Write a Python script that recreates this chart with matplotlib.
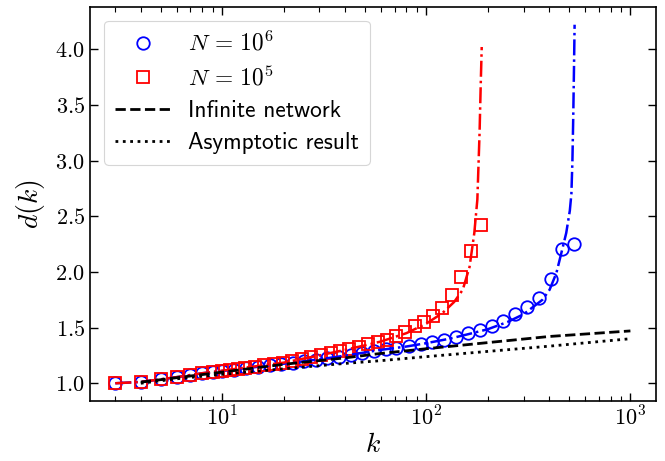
import numpy as np
import matplotlib
matplotlib.use("Agg")
import matplotlib.pyplot as plt
from matplotlib.ticker import FuncFormatter, FixedLocator, LogLocator, NullFormatter

plt.rcParams['mathtext.fontset'] = 'cm'

# simulation points, N = 10^6
k_big = [3, 4, 5, 6, 7, 8, 9, 10, 11.5, 13.1, 15.0, 17.1, 19.4, 22.2, 25.3, 28.8,
         32.8, 37.4, 42.7, 48.6, 55.4, 63.2, 71.5, 82.7, 94.6, 107, 122, 140, 160,
         183, 209, 239, 273, 312, 356, 407, 461, 532]
d_big = [1.0, 1.01, 1.035, 1.055, 1.073, 1.09, 1.10, 1.11, 1.122, 1.135, 1.148, 1.16,
         1.172, 1.185, 1.198, 1.21, 1.225, 1.24, 1.255, 1.27, 1.29, 1.305, 1.317, 1.335,
         1.353, 1.372, 1.39, 1.416, 1.45, 1.475, 1.51, 1.56, 1.623, 1.686, 1.766, 1.937,
         2.206, 2.25]

# simulation points, N = 10^5
k_small = [3, 4, 5, 6, 7, 8, 9, 10, 11, 12, 13, 14.5, 16, 17.9, 19.8, 22, 24.6, 27.3,
           30.6, 34, 37.9, 42, 46.8, 52, 58, 64, 71, 79, 88, 98, 108, 120, 134, 148,
           166, 186]
d_small = [1.0, 1.01, 1.035, 1.055, 1.073, 1.09, 1.10, 1.113, 1.122, 1.132, 1.14, 1.15,
           1.16, 1.17, 1.185, 1.20, 1.216, 1.233, 1.254, 1.27, 1.293, 1.308, 1.33, 1.353,
           1.374, 1.39, 1.42, 1.46, 1.51, 1.55, 1.60, 1.68, 1.79, 1.955, 2.19, 2.42]

# theory curves for finite N (dash-dot)
k_th_big = [3, 4, 5, 6, 8, 10, 15, 20, 30, 40, 60, 80, 100, 130, 160, 200, 250, 300,
            371, 402, 434, 459, 485, 505, 514, 520, 525, 529, 533]
d_th_big = [1.0, 1.012, 1.035, 1.055, 1.09, 1.11, 1.148, 1.175, 1.215, 1.248, 1.30,
            1.33, 1.36, 1.40, 1.44, 1.485, 1.55, 1.62, 1.75, 1.84, 1.99, 2.17, 2.35,
            2.55, 2.70, 3.0, 3.4, 3.8, 4.22]
k_th_small = [3, 4, 5, 6, 8, 10, 15, 20, 30, 40, 50, 60, 80, 100, 120, 137, 151, 163,
              172, 178, 182.5, 185, 187]
d_th_small = [1.0, 1.012, 1.035, 1.055, 1.09, 1.113, 1.155, 1.185, 1.25, 1.30, 1.34,
              1.375, 1.45, 1.535, 1.63, 1.73, 1.84, 2.045, 2.35, 2.65, 3.25, 3.7, 4.02]

# infinite network and asymptotic result
k_inf = [4, 6, 10, 20, 40, 60, 100, 200, 400, 1000]
d_inf = [1.01, 1.05, 1.10, 1.17, 1.228, 1.268, 1.31, 1.365, 1.42, 1.47]
k_asy = [4, 6, 10, 20, 40, 60, 100, 200, 400, 1000]
d_asy = [1.0, 1.04, 1.08, 1.13, 1.178, 1.203, 1.239, 1.286, 1.333, 1.40]

fig = plt.figure(figsize=(6.65, 4.61), dpi=100)
ax = fig.add_axes([0.135, 0.13, 0.851, 0.855])

ax.plot(k_big, d_big, 'o', mfc='none', mec='blue', ms=9, mew=1.3, label=r'$N\,=\,10^6$')
ax.plot(k_small, d_small, 's', mfc='none', mec='red', ms=9, mew=1.3, label=r'$N\,=\,10^5$')
ax.plot(k_th_big, d_th_big, '-.', color='blue', lw=1.8)
ax.plot(k_th_small, d_th_small, '-.', color='red', lw=1.8)
ax.plot(k_inf, d_inf, '--', color='black', lw=2, label='Infinite network')
ax.plot(k_asy, d_asy, ':', color='black', lw=2, label='Asymptotic result')

ax.set_xscale('log')
ax.set_xlim(2.25, 1330)
ax.set_ylim(0.84, 4.38)

ax.yaxis.set_major_locator(FixedLocator([1.0, 1.5, 2.0, 2.5, 3.0, 3.5, 4.0]))
ax.yaxis.set_major_formatter(FuncFormatter(lambda v, p: r'$%.1f$' % v))
ax.xaxis.set_major_locator(LogLocator(base=10))
ax.xaxis.set_minor_locator(LogLocator(base=10, subs=np.arange(2, 10)))
ax.xaxis.set_minor_formatter(NullFormatter())
ax.xaxis.set_major_formatter(FuncFormatter(lambda v, p: r'$10^{%d}$' % round(np.log10(v))))

ax.tick_params(which='both', direction='in', top=True, right=True, labelsize=16)
ax.tick_params(which='major', length=6, width=1)
ax.tick_params(which='minor', length=3.5, width=0.8)
for s in ax.spines.values():
    s.set_linewidth(1.2)

ax.set_xlabel(r'$k$', fontsize=20, labelpad=0)
ax.set_ylabel(r'$d(k)$', fontsize=20, labelpad=6)

leg = ax.legend(loc='upper left', prop={'family': 'cmss10', 'size': 16.8},
                handlelength=2.4, borderpad=0.45, labelspacing=0.42,
                handletextpad=0.75, bbox_to_anchor=(0.005, 0.995))
leg.get_frame().set_linewidth(0.8)

fig.savefig('out.png', dpi=100)
